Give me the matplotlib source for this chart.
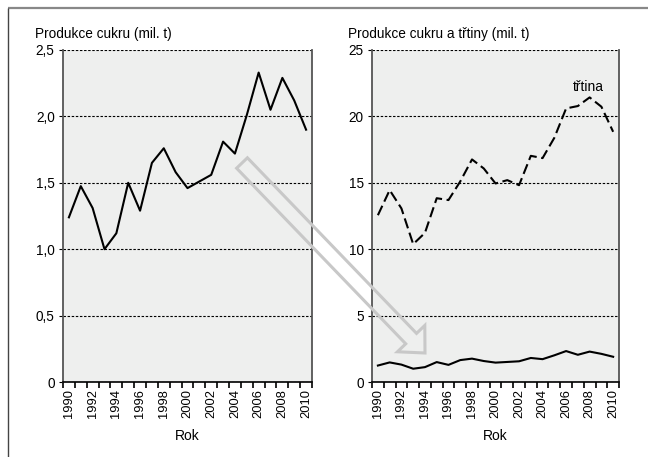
# Produkce cukru a třtiny 1990-2010 (two panels, hollow arrow between them)
import matplotlib
matplotlib.use("Agg")
import matplotlib.pyplot as plt
from matplotlib.patches import FancyArrow
from matplotlib.ticker import FixedLocator, FuncFormatter

plt.rcParams["font.family"] = ["Liberation Sans", "DejaVu Sans"]
plt.rcParams["font.size"] = 9.5

# ── data (mil. t) ──────────────────────────────────────────────────────────────
years = list(range(1990, 2011))
sugar = [1.24, 1.475, 1.31, 1.00, 1.12, 1.50, 1.29, 1.65, 1.76, 1.58, 1.46,
         1.51, 1.56, 1.81, 1.72, 2.01, 2.33, 2.05, 2.29, 2.12, 1.90]
cane = [12.56, 14.45, 13.07, 10.38, 11.23, 13.84, 13.70, 15.10, 16.76, 16.08, 14.95,
        15.20, 14.82, 17.03, 16.86, 18.39, 20.60, 20.78, 21.43, 20.73, 18.84]

left_yticks = [0, 0.5, 1.0, 1.5, 2.0, 2.5]
right_yticks = [0, 5, 10, 15, 20, 25]
label_years = years[::2]

AX_BG = "#eeefee"
SPINE = "#555555"


def style_axes(ax, yticks, yfmt):
    ax.set_facecolor(AX_BG)
    ax.set_xlim(years[0] - 0.5, years[-1] + 0.5)
    ax.set_ylim(yticks[0], yticks[-1])
    ax.set_yticks(yticks)
    ax.yaxis.set_major_formatter(FuncFormatter(yfmt))
    ax.grid(axis="y", color="black", linestyle=(0, (2.2, 1.5)), linewidth=0.8)
    ax.set_axisbelow(True)

    # labels at even years, tick marks on year boundaries
    ax.xaxis.set_major_locator(FixedLocator(label_years))
    ax.xaxis.set_minor_locator(FixedLocator([y - 0.5 for y in years] + [years[-1] + 0.5]))
    ax.tick_params(axis="x", which="major", length=0, rotation=90, pad=5, labelsize=9.3)
    ax.tick_params(axis="x", which="minor", length=4.5, width=1.2, color="black")
    ax.tick_params(axis="y", length=3, width=0.8, pad=3, labelsize=9.8)
    ax.set_xlabel("Rok", labelpad=8, fontsize=10)

    ax.spines["top"].set_visible(False)
    ax.spines["bottom"].set_color("black")
    ax.spines["bottom"].set_linewidth(1.2)
    for s in ("left", "right"):
        ax.spines[s].set_color(SPINE)
        ax.spines[s].set_linewidth(1.3)


fig = plt.figure(figsize=(6.48, 4.57), dpi=100)

ax1 = fig.add_axes([0.0972, 0.1641, 0.3843, 0.7265])
ax2 = fig.add_axes([0.5741, 0.1641, 0.3812, 0.7265])

style_axes(ax1, left_yticks,
           lambda v, _: "0" if v == 0 else f"{v:.1f}".replace(".", ","))
style_axes(ax2, right_yticks, lambda v, _: f"{v:.0f}")

ax1.plot(years, sugar, color="black", linewidth=1.5)
ax2.plot(years, cane, color="black", linewidth=1.5, linestyle=(0, (5, 2.2)))
ax2.plot(years, sugar, color="black", linewidth=1.5)
ax2.text(2007.9, 22.2, "třtina", ha="center", va="center", fontsize=10)

fig.text(35 / 648, 1 - 34 / 457, "Produkce cukru (mil. t)", va="center", fontsize=9.8)
fig.text(348 / 648, 1 - 34 / 457, "Produkce cukru a třtiny (mil. t)", va="center",
         fontsize=9.8)

# overlay in pixel units for the outer frame and the hollow arrow
ov = fig.add_axes([0, 0, 1, 1], zorder=10)
ov.set_xlim(0, 648)
ov.set_ylim(457, 0)
ov.axis("off")
ov.patch.set_visible(False)
ov.plot([8, 648], [8, 8], color="#888888", linewidth=1.6, solid_capstyle="butt")
ov.plot([8, 8], [8, 457], color="#444444", linewidth=1.0, solid_capstyle="butt")
ov.add_patch(FancyArrow(242, 163, 183, 190, width=15, head_width=38, head_length=20,
                        length_includes_head=True, facecolor="none",
                        edgecolor="#c8c8c8", linewidth=2.2))

fig.savefig("out.png", dpi=100)
